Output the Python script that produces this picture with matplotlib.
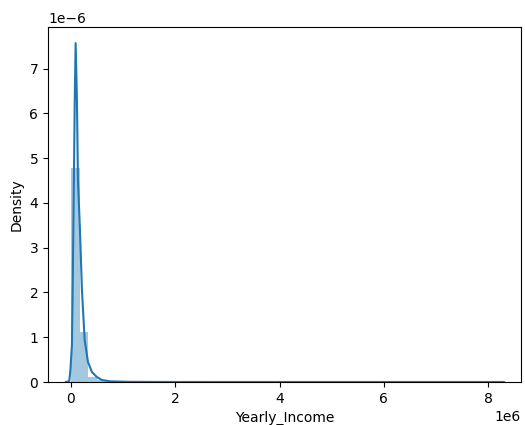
import numpy as np
import matplotlib
matplotlib.use("Agg")
import matplotlib.pyplot as plt

# Histogram of yearly income (density-normalised), 50 equal bins
bin_range = (0.0, 8.3e6)
bin_density = [4.77e-6, 1.12e-6, 0.12e-6, 0.04e-6, 0.02e-6, 0.01e-6, 0.005e-6, 0.003e-6, 0.002e-6, 0.001e-6,
               0.001e-6, 0.0, 0.0, 0.0, 0.0, 0.0, 0.0, 0.0, 0.0, 0.0,
               0.0, 0.0, 0.0, 0.0, 0.0, 0.0, 0.0, 0.0, 0.0, 0.0,
               0.0, 0.0, 0.0, 0.0, 0.0, 0.0, 0.0, 0.0, 0.0, 0.0,
               0.0, 0.0, 0.0, 0.0, 0.0, 0.0, 0.0, 0.0, 0.0, 0.0003e-6]

# Kernel density estimate of yearly income
kde_income = [-0.096e6, -0.033e6, -0.01e6, 0.019e6, 0.033e6, 0.052e6, 0.073e6, 0.09e6,
              0.115e6, 0.134e6, 0.173e6, 0.211e6, 0.263e6, 0.326e6, 0.403e6, 0.498e6,
              0.594e6, 0.75e6, 1.13e6, 2.0e6, 4.0e6, 6.0e6, 8.3e6]
kde_density = [0.0, 0.02e-6, 0.27e-6, 0.83e-6, 2.05e-6, 4.06e-6, 6.29e-6, 7.57e-6,
               6.29e-6, 4.51e-6, 3.39e-6, 2.05e-6, 0.94e-6, 0.45e-6, 0.22e-6, 0.11e-6,
               0.045e-6, 0.015e-6, 0.004e-6, 0.0005e-6, 0.0002e-6, 0.0001e-6, 0.0]

color = "#1f77b4"

fig = plt.figure(figsize=(5.25, 4.25), dpi=100)
ax = fig.add_axes([48 / 525, (425 - 382) / 425, (521 - 48) / 525, (382 - 27) / 425])

edges = np.linspace(bin_range[0], bin_range[1], len(bin_density) + 1)
ax.bar(edges[:-1], bin_density, width=np.diff(edges), align="edge",
       color=color, alpha=0.4, linewidth=0)
ax.plot(kde_income, kde_density, color=color, linewidth=1.5)

ax.set_xlim(-0.44e6, 8.63e6)
ax.set_ylim(0, 7.93e-6)
ax.set_xticks([0, 2e6, 4e6, 6e6, 8e6])
ax.set_yticks([0, 1e-6, 2e-6, 3e-6, 4e-6, 5e-6, 6e-6, 7e-6])
ax.set_xlabel("Yearly_Income")
ax.set_ylabel("Density")

fig.savefig("out.png", dpi=100)
